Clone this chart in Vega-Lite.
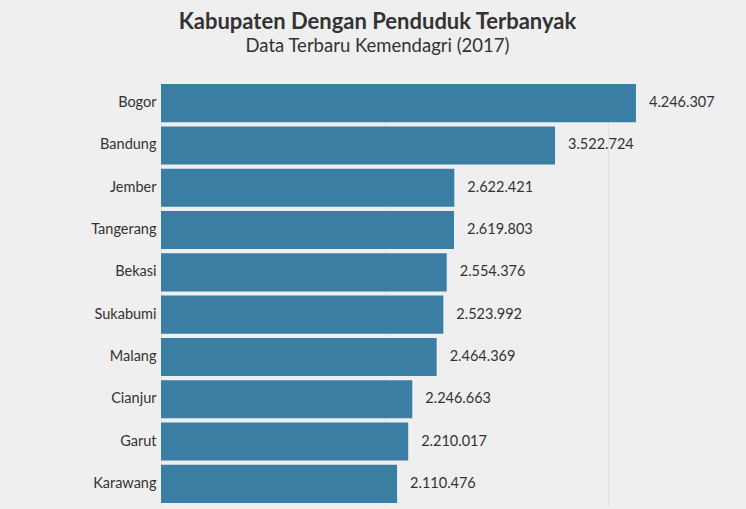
{
  "$schema": "https://vega.github.io/schema/vega-lite/v6.json",
  "autosize": {"type": "none"},
  "width": 585,
  "height": 423,
  "padding": {"left": 161, "top": 82, "right": 0, "bottom": 6},
  "background": "#efefef",
  "title": {
    "text": "Kabupaten Dengan Penduduk Terbanyak",
    "subtitle": "Data Terbaru Kemendagri (2017)",
    "anchor": "middle",
    "frame": "group",
    "dx": -76,
    "offset": 26,
    "font": "Lato",
    "fontSize": 22,
    "fontWeight": "bold",
    "color": "#333333",
    "subtitleFont": "Lato",
    "subtitleFontSize": 18.5,
    "subtitleColor": "#333333",
    "subtitlePadding": 3
  },
  "config": {
    "view": {"stroke": null},
    "locale": {"number": {"decimal": ",", "thousands": ".", "grouping": [3], "currency": ["Rp", ""]}}
  },
  "data": {
    "values": [
      {"kabupaten": "Bogor", "penduduk": 4246307},
      {"kabupaten": "Bandung", "penduduk": 3522724},
      {"kabupaten": "Jember", "penduduk": 2622421},
      {"kabupaten": "Tangerang", "penduduk": 2619803},
      {"kabupaten": "Bekasi", "penduduk": 2554376},
      {"kabupaten": "Sukabumi", "penduduk": 2523992},
      {"kabupaten": "Malang", "penduduk": 2464369},
      {"kabupaten": "Cianjur", "penduduk": 2246663},
      {"kabupaten": "Garut", "penduduk": 2210017},
      {"kabupaten": "Karawang", "penduduk": 2110476}
    ]
  },
  "encoding": {
    "y": {
      "field": "kabupaten",
      "type": "nominal",
      "sort": {"field": "penduduk", "order": "descending"},
      "scale": {"paddingInner": 0.1, "paddingOuter": 0.05},
      "axis": {
        "title": null,
        "ticks": false,
        "domain": false,
        "labelPadding": 5,
        "labelFont": "Lato",
        "labelFontSize": 14.5,
        "labelColor": "#333333"
      }
    },
    "x": {
      "field": "penduduk",
      "type": "quantitative",
      "scale": {"domain": [0, 5230000], "nice": false},
      "axis": {
        "title": null,
        "labels": false,
        "ticks": false,
        "domain": false,
        "values": [0, 2000000, 4000000],
        "grid": true,
        "gridColor": "#cccccc",
        "gridOpacity": 0.4,
        "zindex": 0
      }
    }
  },
  "layer": [
    {"mark": {"type": "bar", "color": "#3b7ea3"}},
    {
      "mark": {"type": "text", "align": "left", "dx": 13, "font": "Lato", "fontSize": 14.5, "color": "#333333"},
      "encoding": {"text": {"field": "penduduk", "type": "quantitative", "format": ",d"}}
    }
  ]
}
